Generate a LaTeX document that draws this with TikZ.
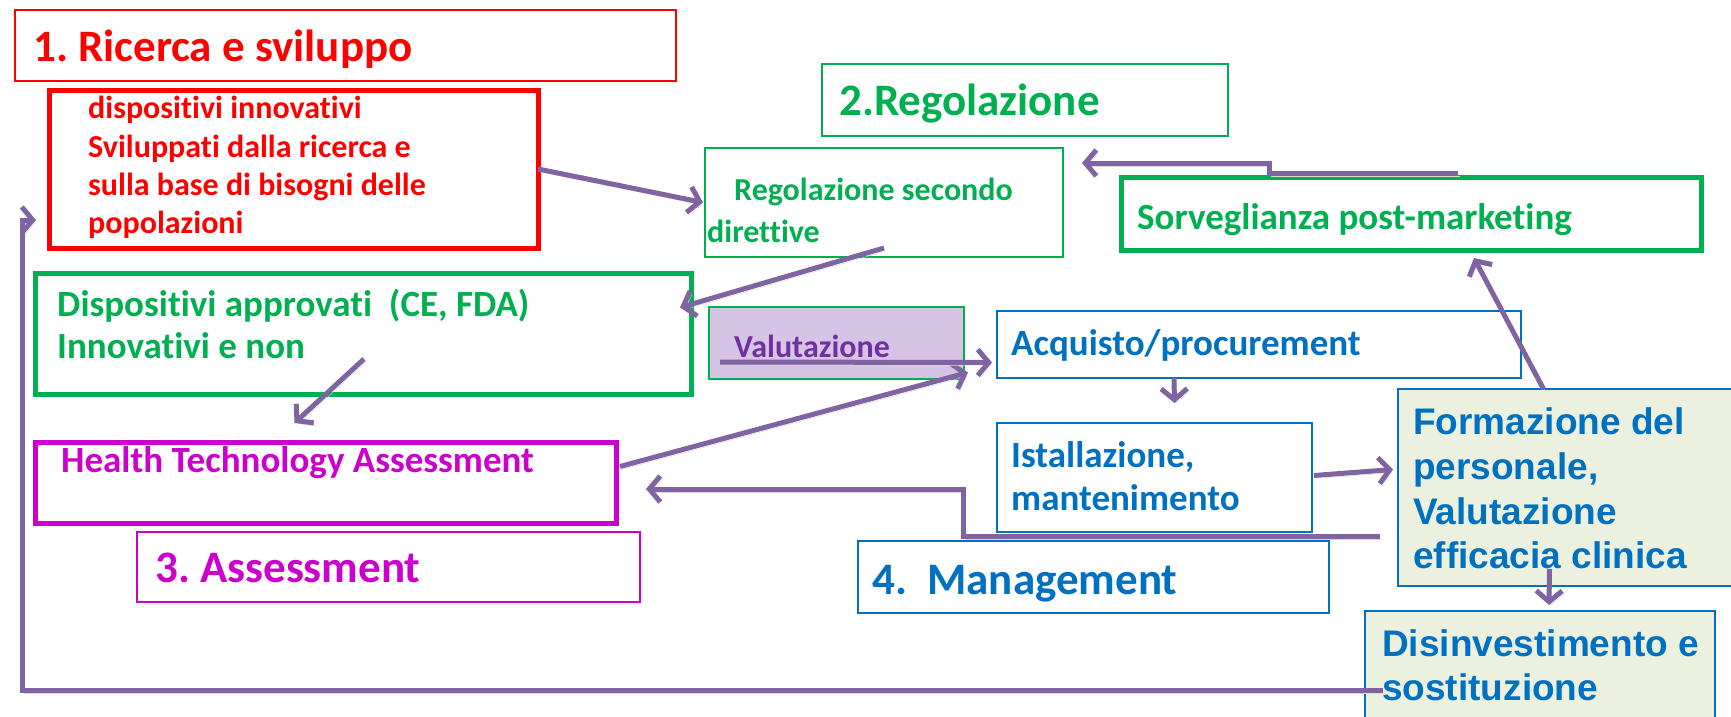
\documentclass[tikz,border=0pt]{standalone}
\usepackage{fontspec}
\setmainfont{Carlito}[Ligatures={NoCommon,NoContextual}]
\newfontfamily\arialfont{Liberation Sans}
\usetikzlibrary{%
  arrows.meta,%
  calc%
}
\definecolor{arrowc}{HTML}{8064A2}
\definecolor{regreen}{HTML}{00B050}
\definecolor{mag}{HTML}{CC00CC}
\definecolor{mblue}{HTML}{0070C0}
\definecolor{valfill}{HTML}{D6C4E4}
\definecolor{valtext}{HTML}{7030A0}
\definecolor{formfill}{HTML}{EBF1DE}
\newcommand{\bigfont}{\fontsize{45}{54}\selectfont\bfseries}
\newcommand{\midfont}{\fontsize{37}{44}\selectfont\bfseries}
\newcommand{\smallfont}{\fontsize{32}{38}\selectfont\bfseries}
\newcommand{\arialbig}{\arialfont\fontsize{37}{44}\selectfont\bfseries}
\tikzset{
  box/.style={draw,inner sep=0pt,outer sep=0pt,anchor=north west},
  txt/.style={anchor=base west,inner sep=0pt},
  flow/.style={draw=arrowc,line width=5pt,-{Straight Barb[length=11pt,width=26pt]},
    preaction={draw=black!15,transform canvas={shift={(2pt,-3pt)}}}}
}
\frenchspacing

\begin{document}
\begin{tikzpicture}[x=1pt,y=-1pt]
    \useasboundingbox (0,0) rectangle (1731,717);
    % 1. ricerca
    \node[box,draw=red,line width=2pt,minimum width=661pt,minimum height=71pt] (t1) at (15,10) {};
    \node[box,draw=red,line width=5pt,minimum width=489pt,minimum height=158pt] (dev) at (49,90) {};
    % 2. regolazione
    \node[box,draw=regreen,line width=1.5pt,minimum width=406pt,minimum height=72pt] (t2) at (822,64) {};
    \node[box,draw=regreen,line width=1.5pt,minimum width=358pt,minimum height=109pt] (reg) at (705,148) {};
    \node[box,draw=regreen,line width=5pt,minimum width=580pt,minimum height=73pt] (sorv) at (1121,177) {};
    \node[box,draw=regreen,line width=5pt,minimum width=656pt,minimum height=121pt] (disp) at (35,273) {};
    \node[box,draw=regreen,fill=valfill,line width=1.5pt,minimum width=255pt,minimum height=72pt] (val) at (709,307) {};
    % 3. assessment
    \node[box,draw=mag,line width=5pt,minimum width=581pt,minimum height=81pt] (hta) at (35,442) {};
    \node[box,draw=mag,line width=1.5pt,minimum width=503pt,minimum height=70pt] (t3) at (137,532) {};
    % 4. management
    \node[box,draw=mblue,line width=2pt,minimum width=524pt,minimum height=67pt] (acq) at (997,311) {};
    \node[box,draw=mblue,line width=2pt,minimum width=315pt,minimum height=109pt] (inst) at (997,423) {};
    \node[box,draw=mblue,line width=2pt,minimum width=471pt,minimum height=72pt] (t4) at (858,541) {};
    \node[box,draw=mblue,fill=formfill,line width=2.5pt,minimum width=347pt,minimum height=197pt] (form) at (1398,389) {};
    \node[box,draw=mblue,fill=formfill,line width=2.5pt,minimum width=350pt,minimum height=129pt] (dis) at (1365,611) {};

    % texts
    \node[txt,text=red,font=\bigfont] (t1l) at (33,61) {1. Ricerca e sviluppo};
    \node[txt,text=red,font=\smallfont] (dev1) at (88,118) {dispositivi innovativi};
    \node[txt,text=red,font=\smallfont] (dev2) at (88,157) {Sviluppati dalla ricerca e};
    \node[txt,text=red,font=\smallfont] (dev3) at (88,195) {sulla base di bisogni delle};
    \node[txt,text=red,font=\smallfont] (dev4) at (88,233) {popolazioni};
    \node[txt,text=regreen,font=\bigfont] (t2l) at (839,115) {2.Regolazione};
    \node[txt,text=regreen,font=\smallfont] (reg1) at (734,200) {Regolazione secondo};
    \node[txt,text=regreen,font=\smallfont] (reg2) at (707,242) {direttive};
    \node[txt,text=regreen,font=\midfont] (sorvl) at (1137,229) {Sorveglianza post-marketing};
    \node[txt,text=regreen,font=\midfont] (disp1) at (57,316) {Dispositivi approvati\ \ (CE, FDA)};
    \node[txt,text=regreen,font=\midfont] (disp2) at (57,358) {Innovativi e non};
    \node[txt,text=valtext,font=\smallfont] (vall) at (734,357) {Valutazione};
    \node[txt,text=mag,font=\midfont] (htal) at (61,472) {Health Technology Assessment};
    \node[txt,text=mag,font=\bigfont] (t3l) at (155,582) {3. Assessment};
    \node[txt,text=mblue,font=\midfont] (acql) at (1011,355) {Acquisto/procurement};
    \node[txt,text=mblue,font=\midfont] (inst1) at (1011,467) {Istallazione,};
    \node[txt,text=mblue,font=\midfont] (inst2) at (1011,510) {mantenimento};
    \node[txt,text=mblue,font=\bigfont] (t4l) at (872,594) {4.\ \ Management};
    \node[txt,text=mblue,font=\arialbig] (form1) at (1413,434) {Formazione del};
    \node[txt,text=mblue,font=\arialbig] (form2) at (1413,479) {personale,};
    \node[txt,text=mblue,font=\arialbig] (form3) at (1413,524) {Valutazione};
    \node[txt,text=mblue,font=\arialbig] (form4) at (1413,568) {efficacia clinica};
    \node[txt,text=mblue,font=\arialbig] (dis1) at (1382,656) {Disinvestimento e};
    \node[txt,text=mblue,font=\arialbig] (dis2) at (1382,700) {sostituzione};

    % arrows
    \coordinate (loop) at (22,690);
    \draw[flow] (dev.east) -- ($(reg.west)+(-2,0)$);
    \draw[flow] ($(reg.south)+(0,-9)$) -- ($(disp.east)+(-11,-26)$);
    \draw[flow] ($(disp.south)+(1,-35)$) -- ($(hta.north)+(-31,-19)$);
    \draw[flow] ($(hta.east)+(4,-16)$) -- ($(acq.west)+(-29,28)$);
    \draw[flow] ($(val.west)+(11,19)$) -- ($(acq.west)+(-5,18)$);
    \draw[flow] ($(acq.south)+(-85,0)$) -- ($(inst.north)+(20,-20)$);
    \draw[flow] ($(inst.east)+(2,-2)$) -- ($(form.west)+(-5,-18)$);
    \draw[flow] ($(form.north)+(-28,0)$) -- ($(sorv.south)+(63,8)$);
    \draw[flow] ($(sorv.north)+(47,-4)$) -- ++(-189,0) -- ++(0,-10) -- ($(reg.east)+(19,-39.5)$);
    \draw[flow] ($(form.south west)+(-18,-50)$) -- ++(-417,0) |- ($(hta.east)+(30,6.5)$);
    \draw[flow] ($(form.south)+(-22,-17)$) -- ($(dis.north)+(9,-6)$);
    \draw[flow] ($(dis.west)+(18,14.5)$) -- (loop) |- ($(dev.west)+(-13,51)$);
\end{tikzpicture}
\end{document}
